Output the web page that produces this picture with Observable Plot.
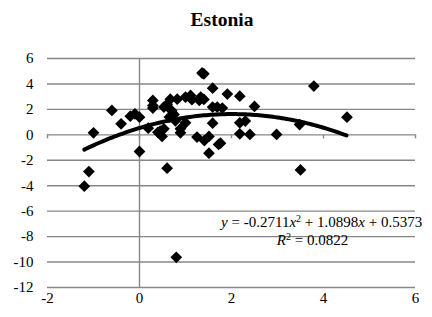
<!DOCTYPE html>
<html><head><meta charset="utf-8">
<script src="https://cdn.jsdelivr.net/npm/d3@7"></script>
<script src="https://cdn.jsdelivr.net/npm/@observablehq/plot@0.6"></script>
<style>
body{margin:0;background:#fff;width:432px;height:317px;overflow:hidden}
#title{height:40px;box-sizing:border-box;padding-top:10px;padding-left:12px;font:bold 19.5px "Liberation Serif","Times New Roman",serif;line-height:19px;text-align:center;color:#000}
svg text{font-family:"Liberation Serif","Times New Roman",serif}
</style></head>
<body>
<div id="title">Estonia</div>
<div id="chart"></div>
<script>
const titleText = "Estonia";
const xValues = [-1.2,-1.1,-1.0,-0.6,-0.4,-0.2,-0.1,0.0,0.0,0.19,0.29,0.29,0.29,0.40,0.49,0.53,0.60,0.53,0.60,0.67,0.70,0.75,0.78,0.82,0.80,0.89,0.89,1.0,1.0,1.11,1.14,1.25,1.30,1.33,1.36,1.40,1.40,1.41,1.51,1.51,1.59,1.59,1.59,1.69,1.76,1.80,1.91,2.18,2.18,2.18,2.30,2.40,2.50,2.98,3.48,3.50,3.79,4.51,0.45,0.65,1.72];
const yValues = [-4.04,-2.89,0.16,1.92,0.87,1.47,1.65,1.39,-1.31,0.52,2.7,2.3,2.1,0.2,-0.13,0.47,-2.62,2.18,2.4,2.8,1.9,1.6,1.1,2.8,-9.63,0.16,0.47,0.94,2.97,3.1,2.76,-0.18,2.7,2.97,4.86,4.8,2.78,-0.45,-0.13,-1.44,3.67,2.18,0.92,2.18,-0.66,2.1,3.2,3.04,0.94,0.08,1.08,0.03,2.23,0.03,0.81,-2.76,3.83,1.39,0.3,1.4,-0.75];
const xTicks = [-2,0,2,4,6];
const yTicks = [-12,-10,-8,-6,-4,-2,0,2,4,6];
const coef = [-0.2711, 1.0898, 0.5373]; // a x^2 + b x + c (from the chart's label)
const fitRange = [-1.2, 4.5];
const eqLabel = "y = -0.2711x² + 1.0898x + 0.5373";
const r2Label = "R² = 0.0822";

const points = xValues.map((x,i)=>({x, y: yValues[i]}));
const fit = d3.range(fitRange[0], fitRange[1] + 1e-9, 0.05).map(x => ({x, y: coef[0]*x*x + coef[1]*x + coef[2]}));
const gray = "#878787";

const chart = Plot.plot({
  width: 432, height: 277,
  marginTop: 18, marginBottom: 30, marginLeft: 47, marginRight: 17,
  style: {fontFamily: '"Liberation Serif","Times New Roman",serif', fontSize: "15px", color: "#000", background: "#fff"},
  x: {domain: [-2, 6], ticks: xTicks, tickSize: 0, tickPadding: 5, label: null, tickFormat: d => String(d)},
  y: {domain: [-12, 6], ticks: yTicks, tickSize: 0, tickPadding: 14, label: null, tickFormat: d => String(d)},
  marks: [
    Plot.ruleY(yTicks, {stroke: gray, strokeWidth: 1.4}),
    Plot.ruleX([0], {stroke: gray, strokeWidth: 1.4}),
    Plot.ruleX(xTicks, {y1: 0, y2: 0, insetBottom: -4, stroke: gray, strokeWidth: 1.4}),
    Plot.line(fit, {x: "x", y: "y", stroke: "#000", strokeWidth: 4, strokeLinecap: "round"}),
    Plot.dot(points, {x: "x", y: "y", symbol: "diamond2", r: 5.3, fill: "#000", stroke: "none"}),
    Plot.text([eqLabel], {x: 3.96, y: -6.88, text: d => d, fontSize: 15, className: "eq", fill: "#000"}),
    Plot.text([r2Label], {x: 3.76, y: -8.25, text: d => d, fontSize: 15, className: "r2", fill: "#000"})
  ]
});
document.getElementById("chart").appendChild(chart);

// rich formatting of the trendline labels (italic variables, superscripts)
d3.select(chart).selectAll(".eq text").html(
  '<tspan font-style="italic">y</tspan> = -0.2711<tspan font-style="italic">x</tspan><tspan dy="-5" font-size="10">2</tspan><tspan dy="5"> + 1.0898</tspan><tspan font-style="italic">x</tspan> + 0.5373');
d3.select(chart).selectAll(".r2 text").html(
  '<tspan font-style="italic">R</tspan><tspan dy="-5" font-size="10">2</tspan><tspan dy="5"> = 0.0822</tspan>');
</script>
</body></html>
